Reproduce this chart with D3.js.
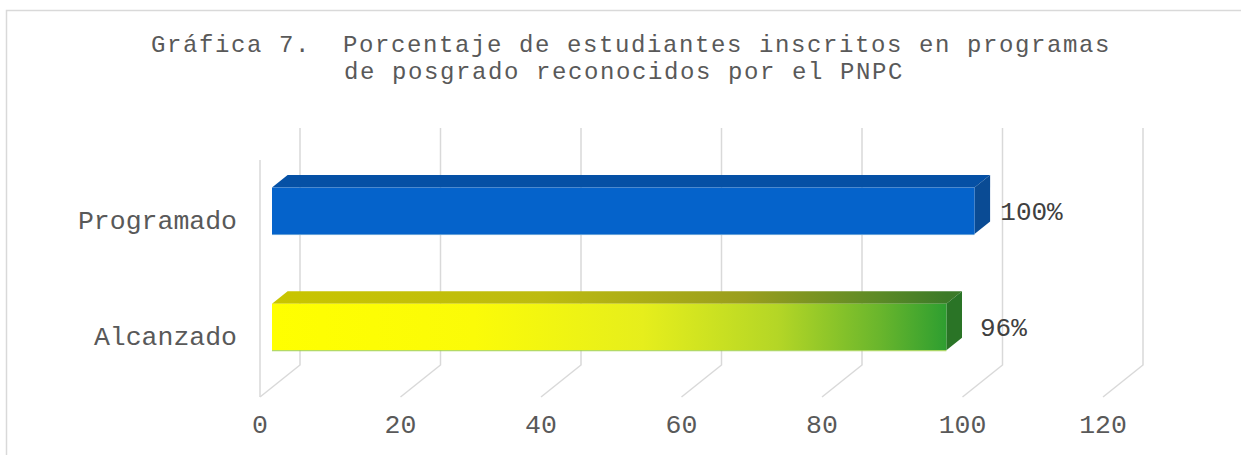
<!DOCTYPE html>
<html>
<head>
<meta charset="utf-8">
<script src="https://cdn.jsdelivr.net/npm/d3@7/dist/d3.min.js"></script>
<style>
  body { margin: 0; background: #fff; }
  svg { display: block; }
  text { font-family: "Liberation Mono", "DejaVu Sans Mono", monospace; }
</style>
</head>
<body>
<svg id="chart" width="1241" height="455"></svg>
<script>
"use strict";
var categories = ['Programado', 'Alcanzado'];
var values = [100, 96];
var value_labels = ['100%', '96%'];
var ticks = [0, 20, 40, 60, 80, 100, 120];
var title_lines = ['Gráfica 7.  Porcentaje de estudiantes inscritos en programas',
                   'de posgrado reconocidos por el PNPC'];

var width = 1241, height = 455;
// 3d box: floor front edge, walls, depth offset
var plot = { left: 260, right: 1103, top: 160, bottom: 397 };
var depth = { dx: 40, dy: -32 };
var bar_front = 0.3, bar_depth = 0.39;

var svg = d3.select('#chart');

var x = d3.scaleLinear()
    .domain([0, 120])
    .range([plot.left, plot.right]);
var y = d3.scaleBand()
    .domain(categories)
    .range([plot.top, plot.bottom])
    .paddingInner(0.6)
    .paddingOuter(0.32);

// position of a point at depth fraction f (0 = front, 1 = back wall)
function px(v, f) { return x(v) + f * depth.dx; }
function py(yy, f) { return yy + f * depth.dy; }

// frame
svg.append('rect')
    .attr('x', 6.5).attr('y', 10.5)
    .attr('width', width).attr('height', height)
    .attr('fill', 'none')
    .attr('stroke', '#d9d9d9')
    .attr('stroke-width', 1.5);

// title, two lines
svg.selectAll('.title')
    .data(title_lines)
    .enter().append('text')
    .attr('class', 'title')
    .attr('x', function (d, i) { return i == 0 ? 631 : 624; })
    .attr('y', function (d, i) { return 52 + i * 27; })
    .attr('text-anchor', 'middle')
    .attr('fill', '#595959')
    .style('font-size', '24px')
    .style('letter-spacing', '1.6px')
    .style('white-space', 'pre')
    .text(function (d) { return d; });

// grid: back wall verticals + floor diagonals
var grid = svg.append('g')
    .attr('stroke', '#d9d9d9')
    .attr('stroke-width', 1.5)
    .attr('fill', 'none');
grid.selectAll('.nothing')
    .data(ticks)
    .enter().append('path')
    .attr('d', function (t) {
        return 'M' + px(t, 1) + ',' + py(plot.top, 1) +
            'L' + px(t, 1) + ',' + py(plot.bottom, 1) +
            'L' + px(t, 0) + ',' + py(plot.bottom, 0);
    });
// left wall edge
grid.append('line')
    .attr('x1', px(0, 0)).attr('x2', px(0, 0))
    .attr('y1', plot.top).attr('y2', plot.bottom);

// gradients
var defs = svg.append('defs');
function add_gradient(id, stops) {
    var g = defs.append('linearGradient')
        .attr('id', id)
        .attr('gradientUnits', 'userSpaceOnUse')
        .attr('x1', px(0, bar_front)).attr('x2', px(values[1], bar_front))
        .attr('y1', 0).attr('y2', 0);
    g.selectAll('stop')
        .data(stops)
        .enter().append('stop')
        .attr('offset', function (d) { return d[0]; })
        .attr('stop-color', function (d) { return d[1]; });
}
add_gradient('alc_front', [[0, '#ffff00'], [0.3, '#fbfb08'], [0.55, '#e6ee1c'], [0.75, '#b4d626'], [0.9, '#6ab62c'], [1, '#2e9e30']]);
add_gradient('alc_top', [[0, '#c9c500'], [0.4, '#bdbb10'], [0.7, '#9a9e1e'], [0.9, '#5c8a26'], [1, '#3c7a28']]);

var bar_colors = [
    { front: '#0563cb', top: '#0550a5', side: '#0a4b94', edge: '#5b9bd5' },
    { front: 'url(#alc_front)', top: 'url(#alc_top)', side: '#2a7426', edge: '#9fd04a' }
];

var f0 = bar_front, f1 = bar_front + bar_depth;
var bars = svg.selectAll('.bar')
    .data(categories)
    .enter().append('g')
    .attr('class', 'bar');

bars.each(function (c, i) {
    var g = d3.select(this);
    var v = values[i];
    var y0 = y(c), y1 = y(c) + y.bandwidth();
    var col = bar_colors[i];
    // top face
    g.append('path')
        .attr('fill', col.top)
        .attr('d', 'M' + px(0, f0) + ',' + py(y0, f0) +
            'L' + px(0, f1) + ',' + py(y0, f1) +
            'L' + px(v, f1) + ',' + py(y0, f1) +
            'L' + px(v, f0) + ',' + py(y0, f0) + 'Z');
    // side face
    g.append('path')
        .attr('fill', col.side)
        .attr('d', 'M' + px(v, f0) + ',' + py(y0, f0) +
            'L' + px(v, f1) + ',' + py(y0, f1) +
            'L' + px(v, f1) + ',' + py(y1, f1) +
            'L' + px(v, f0) + ',' + py(y1, f0) + 'Z');
    // front face
    g.append('rect')
        .attr('fill', col.front)
        .attr('x', px(0, f0))
        .attr('y', py(y0, f0))
        .attr('width', px(v, f0) - px(0, f0))
        .attr('height', y1 - y0);
    g.append('line')
        .attr('stroke', col.edge)
        .attr('stroke-width', 1)
        .attr('x1', px(0, f0)).attr('x2', px(v, f0))
        .attr('y1', py(y1, f0) + 0.5).attr('y2', py(y1, f0) + 0.5);
});

// value labels
svg.selectAll('.value')
    .data(categories)
    .enter().append('text')
    .attr('class', 'value')
    .attr('x', function (c, i) { return px(values[i], f0) + 57; })
    .attr('y', function (c) { return y(c) + y.bandwidth() / 2 + 9 + bar_front * depth.dy; })
    .attr('text-anchor', 'middle')
    .attr('fill', '#404040')
    .style('font-size', '26px')
    .text(function (c, i) { return value_labels[i]; });

// category labels
svg.selectAll('.cat')
    .data(categories)
    .enter().append('text')
    .attr('class', 'cat')
    .attr('x', 237)
    .attr('y', function (c) { return y(c) + y.bandwidth() / 2 + 8.5; })
    .attr('text-anchor', 'end')
    .attr('fill', '#595959')
    .style('font-size', '26.5px')
    .text(function (c) { return c; });

// x tick labels
svg.selectAll('.tick')
    .data(ticks)
    .enter().append('text')
    .attr('class', 'tick')
    .attr('x', function (t) { return x(t); })
    .attr('y', 433)
    .attr('text-anchor', 'middle')
    .attr('fill', '#595959')
    .style('font-size', '26.5px')
    .text(function (t) { return t; });
</script>
</body>
</html>
